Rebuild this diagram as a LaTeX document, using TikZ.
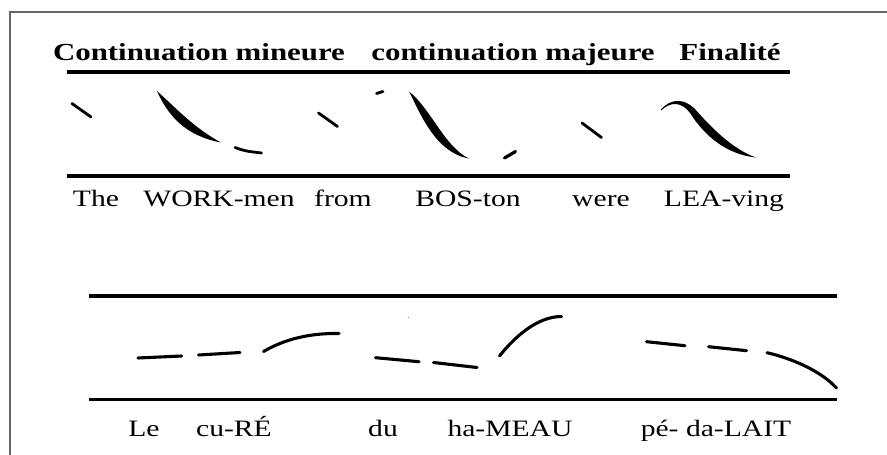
\documentclass[tikz,border=0pt]{standalone}
\usepackage{fontspec}
\setmainfont{Liberation Serif}[FakeStretch=1.26]
\usepackage{tikz}

\begin{document}
\begin{tikzpicture}[
    x=1pt, y=-1pt,
    every node/.style={inner sep=0pt, anchor=base},
    headlabel/.style={font=\fontsize{24.5}{28}\selectfont\bfseries},
    wordlabel/.style={font=\fontsize{23.5}{27}\selectfont},
    staff/.style={line width=3.5pt},
    frameline/.style={line width=1.4pt, draw=black!60},
    pitch/.style={line width=2.8pt, line cap=round},
    flatpitch/.style={line width=3.1pt, line cap=round},
    glide/.style={fill=black}
]
\useasboundingbox (0,0) rectangle (887,455);
\fill[white] (0,0) rectangle (887,455);
\draw[frameline] (10,455) -- (10,12) -- (887,12);

% headings
\node[headlabel] (mineure) at (199,60) {Continuation mineure};
\node[headlabel] (majeure) at (513,60) {continuation majeure};
\node[headlabel] (finalite) at (730,60) {Finalité};

% English sentence
\draw[staff] (67,72) -- (790,72);
\draw[staff] (67,176) -- (790,176);

\draw[pitch] (72,103.5) -- (91,117);
\fill[glide] (157,91) .. controls (176,108) and (194,128) .. (221,142.5)
    .. controls (186,136) and (168,116) .. (157,91) -- cycle;
\draw[pitch] (235,147.5) .. controls (245,151) .. (261.5,153);
\draw[pitch] (318.5,113) -- (337.5,126.5);
\draw[pitch] (376.5,93.5) -- (383,91.5);
\fill[glide] (409,91.5) .. controls (430,107.5) and (445,147.5) .. (469,158.5)
    .. controls (435,152.5) and (420,112.5) .. (409,91.5) -- cycle;
\draw[pitch, line width=3.2pt] (504.5,158) -- (515.5,151.5);
\draw[pitch] (582,123) -- (601.5,137.5);
\fill[glide] (661,109.5) .. controls (671,98) and (684,98.5) .. (694.5,108.5)
    .. controls (711,127.5) and (733,149.5) .. (756,157.5)
    .. controls (727,154.5) and (705,136.5) .. (690,113)
    .. controls (682,102) and (671,101) .. (661,110.5) -- cycle;

\node[wordlabel] (the) at (96,206) {The};
\node[wordlabel] (workmen) at (219,206) {WORK-men};
\node[wordlabel] (from) at (343,206) {from};
\node[wordlabel] (boston) at (468,206) {BOS-ton};
\node[wordlabel] (were) at (601,206) {were};
\node[wordlabel] (leaving) at (724,206) {LEA-ving};

% French sentence
\draw[staff] (89,296) -- (837,296);
\draw[staff] (89,399.5) -- (837,399.5);

\draw[flatpitch] (138,358) -- (181.5,356);
\draw[flatpitch] (198.5,355) -- (240,352.5);
\draw[flatpitch] (263.5,351.5) .. controls (285,339) and (310,333) .. (339,333.5);
\fill[black!45] (408.3,317.3) circle (0.7);
\draw[flatpitch] (375.5,357.7) -- (419,361.7);
\draw[flatpitch] (433.5,362.5) -- (477,367.5);
\draw[flatpitch] (499.5,356) .. controls (513,339) and (536,316.5) .. (561.5,316.5);
\draw[flatpitch] (646.5,341.7) -- (685,345.7);
\draw[flatpitch] (708.5,346.7) -- (746.5,350.7);
\draw[flatpitch] (767,352.7) .. controls (790,358) and (820,370) .. (836.5,388);

\node[wordlabel] (le) at (144,436) {Le};
\node[wordlabel] (cure) at (234,436) {cu-RÉ};
\node[wordlabel] (du) at (383,436) {du};
\node[wordlabel] (hameau) at (510,436) {ha-MEAU};
\node[wordlabel] (pedalait) at (716,436) {pé- da-LAIT};

\end{tikzpicture}
\end{document}
